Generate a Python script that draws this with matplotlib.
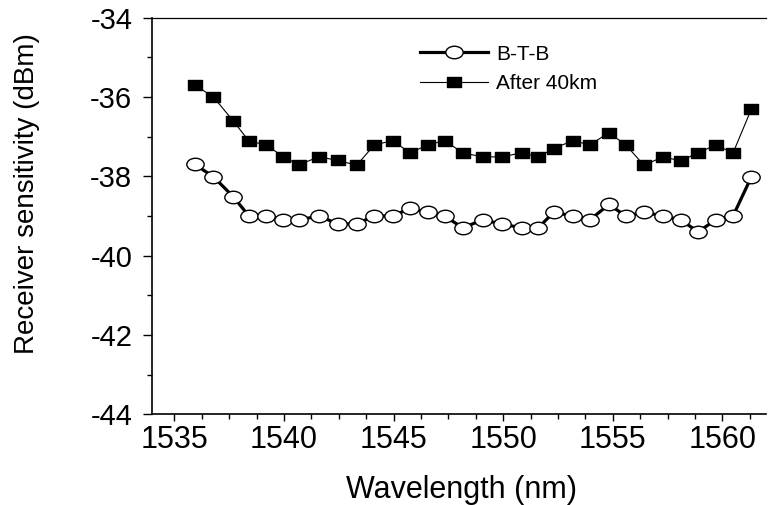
import matplotlib
matplotlib.use('Agg')
import matplotlib.pyplot as plt
from matplotlib.path import Path
from matplotlib.transforms import Affine2D
from matplotlib.ticker import MultipleLocator

# channel wavelengths (nm)
wavelength = [1535.93, 1536.78, 1537.68, 1538.40, 1539.20, 1539.97, 1540.67, 1541.60,
              1542.45, 1543.32, 1544.12, 1544.96, 1545.75, 1546.55, 1547.34, 1548.15,
              1549.06, 1549.93, 1550.84, 1551.60, 1552.30, 1553.19, 1553.96, 1554.82,
              1555.60, 1556.42, 1557.30, 1558.10, 1558.90, 1559.69, 1560.49, 1561.33]
# receiver sensitivity (dBm)
btb = [-37.70, -38.01, -38.51, -39.00, -39.00, -39.10, -39.10, -39.00,
       -39.20, -39.20, -39.00, -39.00, -38.81, -38.91, -39.00, -39.30,
       -39.10, -39.20, -39.30, -39.30, -38.91, -39.00, -39.10, -38.71,
       -39.00, -38.91, -39.00, -39.10, -39.40, -39.10, -39.00, -38.01]
after_40km = [-35.70, -36.00, -36.60, -37.11, -37.21, -37.51, -37.71, -37.51,
              -37.60, -37.72, -37.21, -37.10, -37.41, -37.21, -37.10, -37.41,
              -37.51, -37.51, -37.41, -37.51, -37.30, -37.10, -37.21, -36.90,
              -37.21, -37.72, -37.51, -37.61, -37.41, -37.21, -37.41, -36.30]

plt.rcParams['font.family'] = ['Liberation Sans', 'DejaVu Sans']
plt.rcParams['axes.unicode_minus'] = False

# slightly flattened markers, like the original scan
ellipse = Path.unit_circle().transformed(Affine2D().scale(1.0, 0.72))
rect = Path([(-1, -0.75), (1, -0.75), (1, 0.75), (-1, 0.75), (-1, -0.75)],
            [Path.MOVETO, Path.LINETO, Path.LINETO, Path.LINETO, Path.CLOSEPOLY])

fig = plt.figure(figsize=(7.7, 5.05), dpi=100)
ax = fig.add_axes([0.198, 0.1796, 0.797, 0.7855])

ax.plot(wavelength, btb, color='black', linewidth=2.3, marker=ellipse,
        markersize=12.5, markerfacecolor='white', markeredgecolor='black',
        markeredgewidth=1.0, label='B-T-B', zorder=3)
ax.plot(wavelength, after_40km, color='black', linewidth=0.8, marker=rect,
        markersize=10.5, markerfacecolor='black', markeredgecolor='black',
        label='After 40km', zorder=3)

ax.set_xlim(1534, 1562)
ax.set_ylim(-44, -34)
ax.xaxis.set_major_locator(MultipleLocator(5))
ax.xaxis.set_minor_locator(MultipleLocator(1.25))
ax.yaxis.set_major_locator(MultipleLocator(2))
ax.yaxis.set_minor_locator(MultipleLocator(1))

ax.spines['right'].set_visible(False)
ax.spines['left'].set_linewidth(1.2)
ax.spines['bottom'].set_linewidth(1.2)
ax.spines['top'].set_linewidth(0.9)

ax.tick_params(axis='x', which='major', direction='out', length=5, width=1.0,
               labelsize=22, pad=3)
ax.tick_params(axis='y', which='major', direction='out', length=6.5, width=1.0,
               labelsize=21, pad=8)
ax.tick_params(which='minor', direction='out', length=3.5, width=1.0)
ax.tick_params(top=False, right=False, which='both')

ax.set_xlabel('Wavelength (nm)', fontsize=22)
ax.xaxis.set_label_coords(0.503, -0.19)
ax.xaxis.label.set_verticalalignment('center')
ax.set_ylabel('Receiver sensitivity (dBm)', fontsize=20)
ax.yaxis.set_label_coords(-0.204, 0.5566)
ax.yaxis.label.set_verticalalignment('center')

ax.legend(loc='upper left', bbox_to_anchor=(0.4355, 0.932), frameon=False,
          fontsize=15, handlelength=3.3, handletextpad=0.38, labelspacing=0.52,
          borderpad=0, borderaxespad=0)

fig.savefig('out.png', dpi=100)
